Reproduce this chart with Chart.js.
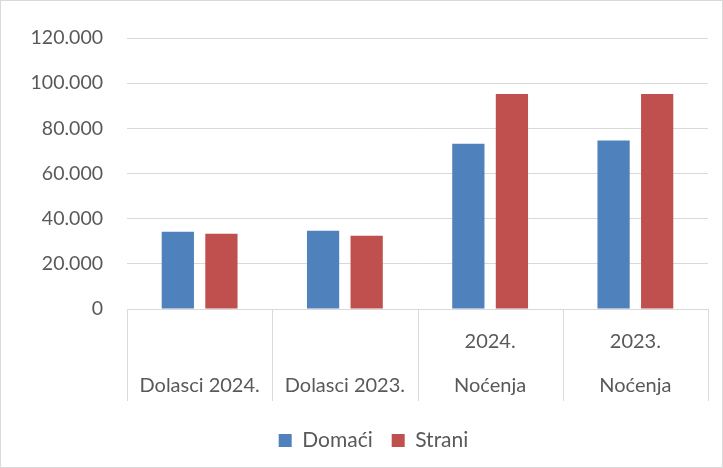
<!DOCTYPE html>
<html>
<head>
<meta charset="utf-8">
<script src="https://cdn.jsdelivr.net/npm/chart.js@4/dist/chart.umd.min.js"></script>
<style>
  html, body { margin: 0; padding: 0; background: #fff; }
  .box { position: relative; width: 721px; height: 466px; border: 1px solid #d9d9d9; }
</style>
</head>
<body>
<div class="box"><canvas id="myChart"></canvas></div>
<script>
const categories = [['', 'Dolasci 2024.'], ['', 'Dolasci 2023.'], ['2024.', 'Noćenja'], ['2023.', 'Noćenja']];
const domaci = [34200, 34700, 73200, 74600];
const strani = [33300, 32400, 95200, 95200];
const yTickLabels = ['0', '20.000', '40.000', '60.000', '80.000', '100.000', '120.000'];

// category separators reaching down through the label area, like Excel
const separators = {
    id: 'separators',
    afterLayout(chart) {
        // excel legend sits a bit right of centre
        chart.legend.left += 38;
    },
    afterDraw(chart) {
        const x = chart.scales.x;
        const n = chart.data.labels.length;
        const c = chart.ctx;
        c.save();
        c.strokeStyle = '#d9d9d9';
        c.lineWidth = 1;
        for (let i = 0; i <= n; i++) {
            const px = Math.round(x.left + (x.right - x.left) * i / n) + 0.5;
            c.beginPath();
            c.moveTo(px, x.top);
            c.lineTo(px, x.top + 92);
            c.stroke();
        }
        c.restore();
    }
};

const ctx = document.getElementById('myChart').getContext('2d');
const myChart = new Chart(ctx, {
    type: 'bar',
    data: {
        labels: categories,
        datasets: [{
            label: 'Domaći',
            data: domaci,
            backgroundColor: '#4f81bd',
            categoryPercentage: 0.6,
            barPercentage: 0.74
        }, {
            label: 'Strani',
            data: strani,
            backgroundColor: '#c0504d',
            categoryPercentage: 0.6,
            barPercentage: 0.74
        }]
    },
    options: {
        responsive: true,
        maintainAspectRatio: false,
        animation: false,
        layout: { padding: { left: 0, right: 14, top: 37, bottom: 6 } },
        plugins: {
            tooltip: { enabled: false },
            legend: {
                position: 'bottom',
                labels: {
                    boxWidth: 13,
                    boxHeight: 13,
                    padding: 19,
                    color: '#595959',
                    font: { family: 'Lato', size: 21 }
                }
            }
        },
        scales: {
            x: {
                border: { color: '#d9d9d9', width: 1 },
                grid: { display: false },
                ticks: {
                    padding: 3,
                    maxRotation: 0,
                    autoSkip: false,
                    color: '#595959',
                    font: { family: 'Lato', size: 20, lineHeight: 2.2 }
                }
            },
            y: {
                min: 0,
                max: 120000,
                border: { display: false },
                grid: { color: '#d9d9d9', drawTicks: false },
                afterFit: (scale) => { scale.width = 126; },
                ticks: {
                    stepSize: 20000,
                    padding: 24,
                    color: '#595959',
                    font: { family: 'Lato', size: 19.5 },
                    callback: (v, i) => yTickLabels[i]
                }
            }
        }
    },
    plugins: [separators]
});
</script>
</body>
</html>
